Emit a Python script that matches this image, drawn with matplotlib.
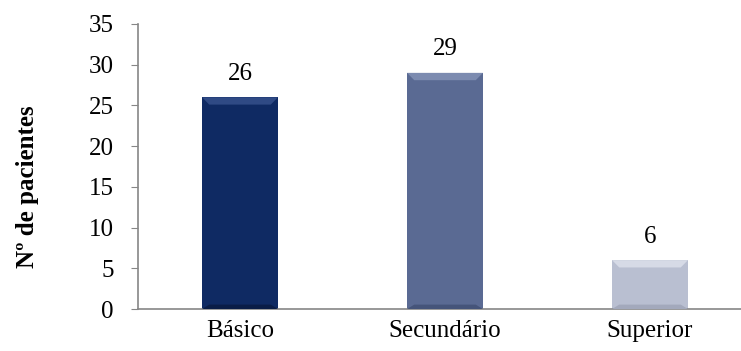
import matplotlib.pyplot as plt
from matplotlib.patches import Polygon

categorias = ['Básico', 'Secundário', 'Superior']
pacientes = [26, 29, 6]
cores = ['#0f2a63', '#5a6a93', '#b9bfd1']
cores_topo = ['#2f4a85', '#7c8bb0', '#d6dae6']
cores_base = ['#0a1d47', '#45547a', '#a3a9bc']

plt.rcParams['font.family'] = ['Liberation Serif', 'DejaVu Serif']

fig = plt.figure(figsize=(7.41, 3.51), dpi=100)
ax = fig.add_axes([137.5 / 741, 42 / 351, 615 / 741, 285 / 351])

x_pos = list(range(len(categorias)))
largura = 0.37
bars = ax.bar(x_pos, pacientes, largura, color=cores, zorder=2)

# bevel: lighter top strip and darker bottom strip inside each bar
bx = 0.035
by = 0.9
for b, ct, cb in zip(bars, cores_topo, cores_base):
    x0 = b.get_x()
    x1 = x0 + b.get_width()
    h = b.get_height()
    d = min(by, h / 4)
    ax.add_patch(Polygon([(x0, h), (x1, h), (x1 - bx, h - d), (x0 + bx, h - d)],
                         closed=True, color=ct, zorder=3, lw=0))
    ax.add_patch(Polygon([(x0, 0), (x1, 0), (x1 - bx, d * 0.6), (x0 + bx, d * 0.6)],
                         closed=True, color=cb, zorder=3, lw=0))

for b, v in zip(bars, pacientes):
    ax.annotate(str(v), (b.get_x() + b.get_width() / 2, v),
                xytext=(0, 9), textcoords='offset points',
                ha='center', va='bottom', fontsize=18)

ax.set_xlim(-0.5, 2.5)
ax.set_ylim(0, 35)
ax.set_yticks(range(0, 36, 5))
ax.set_xticks(x_pos)
ax.set_xticklabels(categorias)
ax.tick_params(axis='y', labelsize=18, length=5, color='#868686', pad=12)
ax.tick_params(axis='x', labelsize=18, length=0, pad=8)

for s in ['top', 'right']:
    ax.spines[s].set_visible(False)
for s in ['left', 'bottom']:
    ax.spines[s].set_color('#868686')
    ax.spines[s].set_linewidth(1.2)

ax.set_ylabel('Nº de pacientes', fontsize=18, fontweight='bold')
ax.yaxis.set_label_coords(-0.160, 0.43)

fig.savefig('out.png', dpi=100)
